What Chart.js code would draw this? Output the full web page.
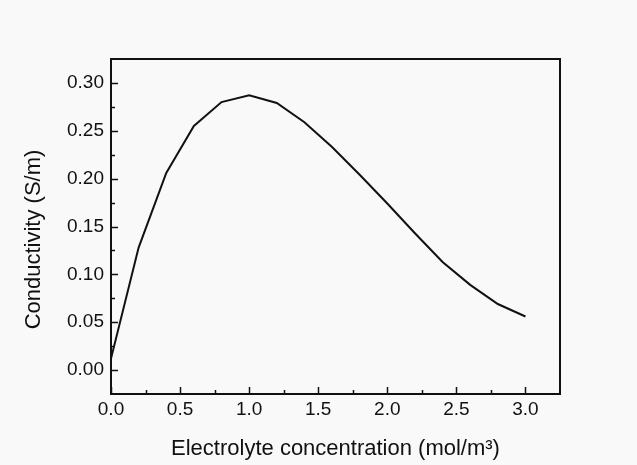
<!DOCTYPE html>
<html>
<head>
<meta charset="utf-8">
<script src="https://cdn.jsdelivr.net/npm/chart.js@4.4.1/dist/chart.umd.min.js"></script>
<style>
  html, body { margin: 0; padding: 0; background: #f9f9f9; }
  #wrap { width: 637px; height: 465px; }
</style>
</head>
<body>
<div id="wrap"><canvas id="c" width="637" height="465"></canvas></div>
<script>
// Conductivity versus electrolyte concentration
const concentration = [0.0, 0.2, 0.4, 0.6, 0.8, 1.0, 1.2, 1.4, 1.6, 1.8, 2.0, 2.2, 2.4, 2.6, 2.8, 3.0];
const conductivity  = [0.012, 0.128, 0.206, 0.255, 0.280, 0.287, 0.279, 0.259, 0.233, 0.204, 0.174, 0.143, 0.113, 0.089, 0.069, 0.056];
const xTickValues = [0.0, 0.5, 1.0, 1.5, 2.0, 2.5, 3.0];
const yTickValues = [0.00, 0.05, 0.10, 0.15, 0.20, 0.25, 0.30];
const yTitle = 'Conductivity (S/m)';
const xTitle = 'Electrolyte concentration (mol/m³)';

const INK = '#111111';
const FONT = '"Liberation Sans", Arial, sans-serif';

// Frame around the plot area, inward major/minor ticks on the bottom and left axes,
// and the vertical axis title (set a little below the plot's midline)
const framePlugin = {
  id: 'frame',
  beforeDraw(chart) {
    const ctx = chart.ctx;
    ctx.save();
    ctx.fillStyle = '#f9f9f9';
    ctx.fillRect(0, 0, chart.width, chart.height);
    ctx.restore();
  },
  afterDatasetsDraw(chart) {
    const { ctx, chartArea: a, scales } = chart;
    ctx.save();
    ctx.strokeStyle = INK;
    ctx.lineWidth = 2;
    ctx.strokeRect(a.left, a.top, a.right - a.left, a.bottom - a.top);

    const majorLen = 7, minorLen = 4;
    ctx.lineWidth = 1.5;
    ctx.beginPath();
    const xs = scales.x;
    const xt = xs.ticks.map(t => t.value);
    xt.forEach((v, i) => {
      const px = Math.round(xs.getPixelForValue(v)) + 0.5;
      ctx.moveTo(px, a.bottom); ctx.lineTo(px, a.bottom - majorLen);
      if (i < xt.length - 1) {
        const m = Math.round(xs.getPixelForValue((v + xt[i + 1]) / 2)) + 0.5;
        ctx.moveTo(m, a.bottom); ctx.lineTo(m, a.bottom - minorLen);
      }
    });
    const ys = scales.y;
    const yt = ys.ticks.map(t => t.value);
    yt.forEach((v, i) => {
      const py = Math.round(ys.getPixelForValue(v)) + 0.5;
      ctx.moveTo(a.left, py); ctx.lineTo(a.left + majorLen, py);
      if (i < yt.length - 1) {
        const m = Math.round(ys.getPixelForValue((v + yt[i + 1]) / 2)) + 0.5;
        ctx.moveTo(a.left, m); ctx.lineTo(a.left + minorLen, m);
      }
    });
    ctx.stroke();

    // vertical axis title
    ctx.translate(34, (a.top + a.bottom) / 2 + 13);
    ctx.rotate(-Math.PI / 2);
    ctx.fillStyle = INK;
    ctx.font = '22px ' + FONT;
    ctx.textAlign = 'center';
    ctx.textBaseline = 'middle';
    ctx.fillText(yTitle, 0, 0);
    ctx.restore();
  }
};

new Chart(document.getElementById('c'), {
  type: 'line',
  data: {
    datasets: [{
      data: concentration.map((x, i) => ({ x, y: conductivity[i] })),
      borderColor: INK,
      borderWidth: 2,
      pointRadius: 0,
      tension: 0,
      fill: false
    }]
  },
  options: {
    responsive: false,
    animation: false,
    devicePixelRatio: 1,
    layout: { padding: { left: 0, right: 77, top: 59, bottom: 0 } },
    plugins: { legend: { display: false }, tooltip: { enabled: false } },
    scales: {
      x: {
        type: 'linear',
        min: 0,
        max: 3.25,
        afterBuildTicks: s => { s.ticks = xTickValues.map(v => ({ value: v })); },
        afterFit: s => { s.height = 71; },
        grid: { display: false, drawTicks: false },
        border: { display: false },
        ticks: {
          padding: 4,
          color: INK,
          font: { family: FONT, size: 19 },
          callback: v => Number(v).toFixed(1)
        },
        title: {
          display: true,
          text: xTitle,
          color: INK,
          font: { family: FONT, size: 22 },
          padding: { top: 0, bottom: 3 }
        }
      },
      y: {
        type: 'linear',
        min: -0.025,
        max: 0.325,
        afterBuildTicks: s => { s.ticks = yTickValues.map(v => ({ value: v })); },
        afterFit: s => { s.width = 111; },
        grid: { display: false, drawTicks: false },
        border: { display: false },
        ticks: {
          padding: 7,
          color: INK,
          font: { family: FONT, size: 19 },
          callback: v => Number(v).toFixed(2)
        },
        title: { display: false }
      }
    }
  },
  plugins: [framePlugin]
});
</script>
</body>
</html>
